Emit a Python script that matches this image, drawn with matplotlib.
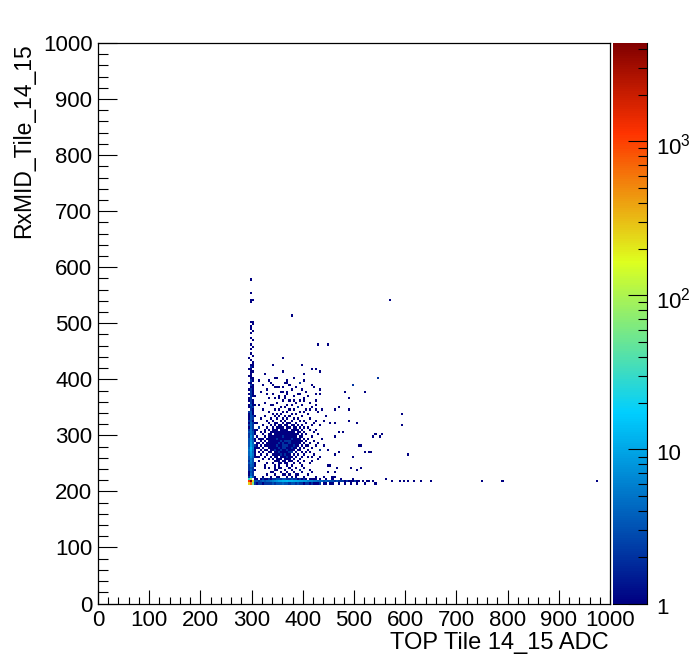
import numpy as np
import matplotlib
matplotlib.use('Agg')
import matplotlib.pyplot as plt
from matplotlib.colors import LinearSegmentedColormap, LogNorm
from matplotlib.ticker import FixedLocator, NullFormatter, FixedFormatter
from matplotlib.transforms import ScaledTranslation

plt.rcParams['font.family'] = ['Liberation Sans', 'DejaVu Sans']
plt.rcParams['mathtext.fontset'] = 'custom'
plt.rcParams['mathtext.rm'] = 'Liberation Sans'
plt.rcParams['mathtext.default'] = 'regular'

x_label = 'TOP Tile 14_15 ADC'
y_label = 'RxMID_Tile_14_15'
axis_ticks = [0, 100, 200, 300, 400, 500, 600, 700, 800, 900, 1000]
z_ticks = [1, 10, 100, 1000]
z_labels = ['1', '10', '$10^{2}$', '$10^{3}$']
z_minor = [2, 3, 4, 5, 6, 7, 8, 9, 20, 30, 40, 50, 60, 70, 80, 90,
           200, 300, 400, 500, 600, 700, 800, 900, 2000, 3000, 4000]
z_max = 4350
n_bins = 250

# cluster, one list of x per y row
blob_rows = [
    (400, [350, 382]),
    (396, [334, 370, 402]),
    (392, [338, 366, 394]),
    (388, [322, 374]),
    (384, [346, 352, 386, 422]),
    (380, [330, 378, 398]),
    (376, [318, 358, 362, 406]),
    (372, [342, 370, 390, 434]),
    (368, [354, 382, 410]),
    (364, [334, 346, 366, 402]),
    (360, [362, 374, 394, 426]),
    (356, [326, 350, 386, 414]),
    (352, [338, 342, 370, 378, 398]),
    (348, [358, 366, 390, 418]),
    (344, [322, 346, 354, 374, 382, 406]),
    (340, [334, 362, 370, 394, 402, 430]),
    (336, [342, 350, 358, 378, 386, 410]),
    (332, [326, 346, 354, 366, 374, 398, 446]),
    (328, [318, 338, 350, 362, 370, 382, 390, 414]),
    (324, [330, 342, 358, 366, 378, 394, 402, 426]),
    (320, [310, 334, 346, 350, 362, 370, 374, 386, 406, 422]),
    (316, [322, 338, 346, 354, 358, 366, 370, 378, 382, 390, 398, 418, 434]),
    (312, [314, 330, 342, 350, 354, 358, 362, 370, 374, 382, 386, 394, 402, 410]),
    (308, [326, 334, 342, 346, 350, 358, 362, 366, 370, 378, 382, 386, 390, 398, 414, 426]),
    (304, [306, 318, 338, 342, 346, 350, 354, 358, 362, 366, 370, 374, 378, 382, 390, 394, 402, 422]),
    (300, [322, 334, 338, 346, 350, 354, 358, 362, 366, 370, 374, 378, 382, 386, 390, 398, 406, 430]),
    (296, [310, 326, 334, 338, 342, 346, 350, 354, 358, 362, 366, 370, 374, 378, 382, 386, 394, 398, 418]),
    (292, [314, 322, 330, 334, 338, 342, 346, 350, 354, 358, 362, 366, 370, 374, 378, 382, 386, 390, 394, 402, 410, 438]),
    (288, [306, 318, 326, 334, 338, 342, 346, 350, 354, 358, 362, 366, 370, 374, 378, 382, 386, 390, 394, 398, 406, 422]),
    (284, [310, 314, 322, 330, 334, 338, 342, 346, 350, 354, 358, 362, 366, 370, 374, 378, 382, 386, 390, 394, 402, 414, 430]),
    (280, [306, 318, 326, 330, 334, 338, 342, 346, 350, 354, 358, 362, 366, 370, 374, 378, 382, 386, 390, 398, 406, 410, 426, 442]),
    (276, [310, 314, 322, 334, 338, 342, 346, 350, 354, 358, 362, 366, 370, 374, 378, 382, 386, 394, 402, 418]),
    (272, [318, 326, 330, 338, 342, 346, 350, 354, 358, 362, 366, 370, 374, 378, 382, 390, 394, 410, 434]),
    (268, [306, 314, 322, 334, 338, 346, 350, 354, 358, 362, 366, 370, 374, 378, 386, 398, 406, 414]),
    (264, [318, 330, 342, 346, 350, 354, 358, 362, 366, 370, 374, 382, 390, 402, 422]),
    (260, [310, 326, 338, 346, 350, 358, 362, 366, 370, 374, 378, 386, 398, 410, 418]),
    (256, [322, 334, 342, 350, 354, 358, 366, 370, 374, 382, 394, 430]),
    (252, [314, 346, 350, 354, 362, 366, 374, 378, 390, 402]),
    (248, [330, 342, 354, 358, 366, 370, 382, 394, 414]),
    (244, [326, 346, 354, 370, 378, 398]),
    (240, [334, 354, 358, 374, 386, 402]),
    (236, [346, 350, 366, 378, 394]),
    (232, [338, 342, 358, 370, 382, 398, 418]),
    (228, [330, 346, 362, 366, 374, 390, 410]),
    (224, [322, 338, 350, 354, 370, 378, 386, 402, 426, 442, 458]),
]

# extra hits in the middle of the cluster
core_x = [350, 354, 358, 362, 366, 370, 374, 378, 346, 354, 362, 370, 378, 358, 366, 374, 350, 362, 370, 382,
          366, 374, 358, 354, 370, 362, 378, 366]
core_y = [280, 284, 288, 276, 280, 272, 284, 276, 272, 268, 284, 288, 292, 264, 264, 268, 292, 296, 280, 280,
          276, 288, 272, 276, 260, 280, 268, 288]

# lone hits around the cluster
scatter_x = [342, 397, 416, 434, 359, 325, 400, 543, 346, 314, 369, 342, 498, 392, 418, 434, 350, 359, 369, 520,
             480, 392, 329, 426, 363, 353, 381, 488, 400, 423, 314, 460, 468, 488, 438, 425, 412, 387, 594, 594,
             505, 490, 454, 460, 440, 477, 470, 462, 542, 550, 507, 522, 532, 603, 496, 460, 470, 512, 494, 447,
             454, 460, 447, 462, 431, 433, 447, 415, 412, 385, 392, 325, 343, 314, 314, 307, 318, 310, 323,
             567, 376, 360, 425, 450, 430, 497, 544, 554, 536, 513, 528, 505, 466,
             650, 748, 787, 971, 605, 616, 587, 598, 628, 574, 562]
scatter_y = [425, 424, 418, 413, 413, 410, 407, 401, 400, 397, 392, 389, 388, 392, 389, 382, 385, 385, 378, 378,
             378, 374, 373, 374, 367, 365, 361, 364, 359, 353, 352, 346, 347, 346, 346, 343, 343, 350, 335, 316,
             322, 325, 322, 322, 326, 305, 303, 298, 299, 295, 281, 267, 270, 264, 259, 265, 267, 240, 240, 244,
             243, 232, 234, 226, 261, 274, 273, 253, 238, 229, 238, 240, 240, 262, 313, 310, 292, 279, 305,
             541, 511, 435, 417, 460, 460, 390, 400, 300, 297, 280, 270, 238, 240,
             218, 216, 216, 216, 218, 216, 216, 216, 216, 218, 220]

# vertical arm, counts by y row in three x columns
arm_y = [224, 228, 232, 236, 240, 244, 248, 252, 256, 260, 264, 268, 272, 276, 280, 284, 288, 292, 296, 300,
         304, 308, 312, 316, 320, 324, 328, 332, 336, 340, 344, 348, 352, 356, 360, 364, 368, 372, 376, 380,
         384, 388, 392, 396, 400, 404, 408, 412, 416, 420]
arm_292 = [2, 1, 1, 2, 2, 2, 3, 2, 3, 3, 4, 4, 5, 4, 3, 3, 3, 3, 2, 2,
           3, 2, 1, 2, 1, 2, 1, 1, 1, 2, 0, 1, 1, 0, 1, 1, 0, 1, 0, 1,
           0, 0, 1, 0, 0, 1, 0, 0, 1, 0]
arm_296 = [8, 4, 3, 4, 3, 4, 5, 6, 5, 7, 8, 9, 11, 12, 9, 9, 7, 6, 7, 5,
           5, 5, 4, 4, 4, 3, 3, 3, 3, 3, 2, 2, 3, 2, 2, 2, 2, 2, 2, 2,
           1, 2, 1, 2, 1, 1, 1, 1, 1, 2]
arm_300 = [3, 2, 2, 2, 2, 3, 3, 3, 3, 4, 5, 4, 5, 6, 5, 4, 4, 3, 3, 3,
           3, 2, 2, 2, 2, 1, 2, 2, 1, 1, 1, 2, 1, 1, 1, 0, 1, 1, 1, 1,
           1, 1, 0, 1, 1, 0, 0, 1, 0, 1]
arm_304 = [1, 0, 0, 1, 0, 1, 1, 0, 0, 1, 1, 0, 1, 1, 1, 0, 0, 1, 0, 1,
           0, 1, 0, 0, 1, 0, 0, 1, 0, 0, 0, 0, 1, 0, 0, 0, 1, 0, 0, 0,
           0, 0, 0, 0, 0, 0, 0, 0, 0, 0]

# thin top of the vertical arm
arm_top_x = [296, 300, 296, 292, 300, 296, 296, 300, 296, 300, 296, 296, 300, 296, 296, 300, 296, 300, 296, 296, 300, 296, 296, 300]
arm_top_y = [424, 428, 432, 436, 440, 444, 452, 456, 460, 468, 472, 480, 484, 488, 492, 496, 500, 500, 536, 540, 540, 552, 575, 424]

# horizontal arm, counts by x column in three y rows
horiz_x = [304, 308, 312, 316, 320, 324, 328, 332, 336, 340, 344, 348, 352, 356, 360, 364, 368, 372, 376, 380,
           384, 388, 392, 396, 400, 404, 408, 412, 416, 420, 424, 428, 432, 436, 440, 444, 448, 452, 456, 460,
           464, 468, 472, 476, 480, 484, 488, 492, 496, 500, 504, 508, 512, 516, 520, 524, 528, 532, 536, 540]
horiz_212 = [2, 1, 2, 2, 1, 2, 2, 2, 2, 3, 2, 3, 3, 3, 4, 3, 3, 2, 3, 3,
             2, 3, 2, 2, 1, 2, 2, 1, 2, 1, 1, 1, 2, 0, 1, 1, 0, 1, 1, 0,
             0, 1, 0, 0, 1, 0, 0, 1, 0, 0, 1, 0, 0, 0, 1, 0, 0, 0, 0, 1]
horiz_216 = [3, 3, 2, 3, 4, 3, 4, 4, 5, 6, 7, 8, 10, 11, 12, 12, 13, 12, 12, 11,
             11, 10, 9, 9, 8, 8, 6, 6, 6, 5, 5, 4, 4, 4, 3, 4, 3, 3, 3, 2,
             3, 2, 2, 2, 1, 2, 1, 1, 1, 2, 1, 1, 0, 1, 0, 1, 1, 0, 1, 0]
horiz_220 = [1, 1, 0, 1, 2, 1, 1, 2, 1, 2, 2, 3, 3, 2, 3, 3, 2, 2, 3, 2,
             2, 1, 2, 1, 2, 1, 0, 1, 1, 1, 1, 0, 1, 0, 0, 1, 0, 0, 1, 0,
             0, 0, 1, 0, 0, 0, 0, 0, 1, 0, 0, 0, 0, 0, 0, 0, 0, 0, 0, 0]

# the corner pile up
corner_x = [292, 296, 292, 296, 300, 300, 292, 296]
corner_y = [212, 212, 216, 216, 212, 216, 220, 220]
corner_n = [260, 700, 1100, 4300, 60, 240, 30, 90]

# ROOT rainbow palette
palette = LinearSegmentedColormap.from_list('root_rainbow', [
    (0.00, (0.00, 0.00, 0.51)),
    (0.34, (0.00, 0.81, 1.00)),
    (0.61, (0.87, 1.00, 0.12)),
    (0.84, (1.00, 0.20, 0.00)),
    (1.00, (0.51, 0.00, 0.00)),
], N=255)

all_x, all_y, all_n = [], [], []
for row_y, row_x in blob_rows:
    for val in row_x:
        all_x.append(val)
        all_y.append(row_y)
        all_n.append(1)
all_x += core_x + scatter_x + arm_top_x + corner_x
all_y += core_y + scatter_y + arm_top_y + corner_y
all_n += [1] * (len(core_x) + len(scatter_x) + len(arm_top_x)) + corner_n
for col, counts in [(292, arm_292), (296, arm_296), (300, arm_300), (304, arm_304)]:
    all_x += [col] * len(arm_y)
    all_y += arm_y
    all_n += counts
for row, counts in [(212, horiz_212), (216, horiz_216), (220, horiz_220)]:
    all_x += horiz_x
    all_y += [row] * len(horiz_x)
    all_n += counts

edges = np.linspace(0, 1000, n_bins + 1)
hist, _, _ = np.histogram2d(np.array(all_x) + 1, np.array(all_y) + 1, bins=[edges, edges], weights=all_n)
hist = np.ma.masked_less(hist.T, 1)

W, H = 692, 666
fig = plt.figure(figsize=(W / 100, H / 100), dpi=100)
ax = fig.add_axes([98 / W, 1 - 603.5 / H, 512 / W, 560.5 / H])
cax = fig.add_axes([613 / W, 1 - 603.5 / H, 34 / W, 560.5 / H])

mesh = ax.pcolormesh(edges, edges, hist, cmap=palette, norm=LogNorm(1, z_max), antialiased=False, linewidth=0)
ax.set_xlim(0, 1000)
ax.set_ylim(0, 1000)
ax.set_xticks(axis_ticks)
ax.set_yticks(axis_ticks)
ax.set_xticks(np.arange(0, 1001, 20), minor=True)
ax.set_yticks(np.arange(0, 1001, 20), minor=True)
ax.tick_params(axis='x', which='major', direction='in', length=10, width=0.8, labelsize=16, pad=5)
ax.tick_params(axis='x', which='minor', direction='in', length=5, width=0.8)
ax.tick_params(axis='y', which='major', direction='in', length=13.7, width=0.8, labelsize=16, pad=4)
ax.tick_params(axis='y', which='minor', direction='in', length=7.2, width=0.8)
for spine in ax.spines.values():
    spine.set_linewidth(0.9)

fig.text(609 / W, 1 - 643 / H, x_label, ha='right', va='center', fontsize=17)
fig.text(24 / W, 1 - 43 / H, y_label, ha='center', va='top', rotation=90, fontsize=16.5)

cbar = fig.colorbar(mesh, cax=cax)
cbar.outline.set_visible(False)
cax.spines['right'].set_visible(True)
cax.spines['bottom'].set_visible(True)
cax.yaxis.set_major_locator(FixedLocator(z_ticks))
cax.yaxis.set_major_formatter(FixedFormatter(z_labels))
cax.yaxis.set_minor_locator(FixedLocator(z_minor))
cax.yaxis.set_minor_formatter(NullFormatter())
cax.tick_params(which='major', direction='in', length=13.5, width=0.8, labelsize=16, pad=6.5)
cax.tick_params(which='minor', direction='in', length=6.5, width=0.8)
down = ScaledTranslation(0, -3 / 100, fig.dpi_scale_trans)
for lab in cax.get_yticklabels():
    lab.set_transform(lab.get_transform() + down)

fig.savefig('out.png', dpi=100)
